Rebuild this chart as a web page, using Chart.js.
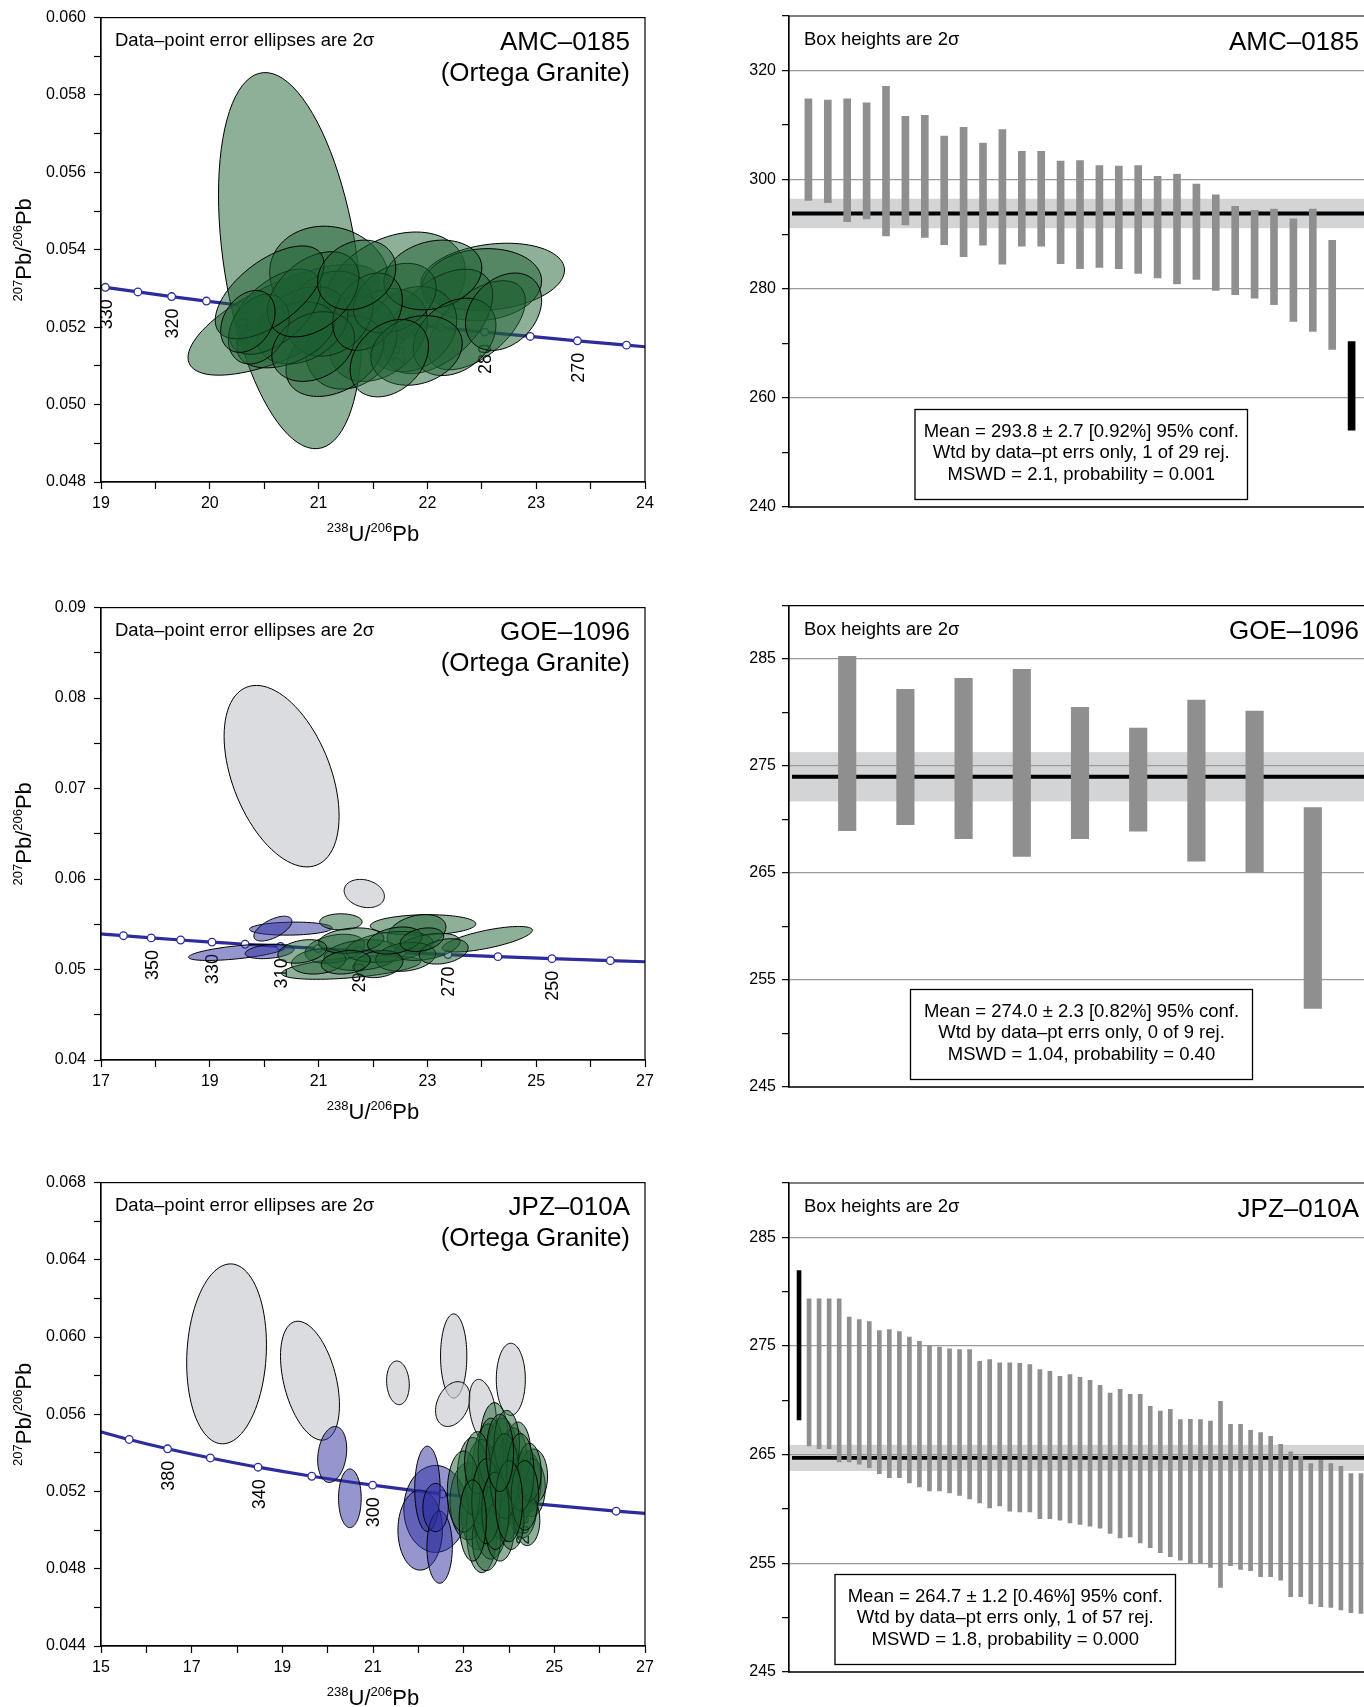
<!DOCTYPE html>
<html>
<head>
<meta charset="utf-8">
<script src="https://cdn.jsdelivr.net/npm/chart.js@4.4.1/dist/chart.umd.min.js"></script>
<style>
html, body { margin: 0; padding: 0; background: #fff; overflow: hidden; width: 1364px; height: 1707px; }
canvas { position: absolute; }
</style>
</head>
<body>
<canvas id="conc1" width="680" height="560" style="left:0;top:0"></canvas>
<canvas id="wm1" width="700" height="560" style="left:700px;top:0"></canvas>
<canvas id="conc2" width="680" height="560" style="left:0;top:590px"></canvas>
<canvas id="wm2" width="700" height="520" style="left:700px;top:590px"></canvas>
<canvas id="conc3" width="680" height="542" style="left:0;top:1165px"></canvas>
<canvas id="wm3" width="700" height="542" style="left:700px;top:1165px"></canvas>
<script>
// ---------- AMC-0185 ----------
const amcAges = [335, 330, 325, 320, 315, 310, 305, 300, 295, 290, 285, 280, 275, 270, 265, 260];
const amcConcX = [18.747, 19.040, 19.339, 19.649, 19.969, 20.299, 20.640, 20.992, 21.356, 21.733, 22.123, 22.527, 22.945, 23.379, 23.830, 24.297];
const amcConcY = [0.053146, 0.053031, 0.052911, 0.052792, 0.052676, 0.052561, 0.052446, 0.052331, 0.052216, 0.052102, 0.051988, 0.051874, 0.051761, 0.051648, 0.051536, 0.051424];
const amcAgeLabels = [330, 320, 310, 300, 290, 280, 270];
// ellipses: [x, y, half-width x, half-height y, rho]
const amcGreen = [
  [20.74, 0.05372, 0.66, 0.00486, -0.35],
  [20.68, 0.05219, 0.88, 0.00143, 0.68],
  [21.10, 0.05330, 0.55, 0.00131, -0.09],
  [21.70, 0.05300, 0.65, 0.00146, 0.30],
  [22.60, 0.05330, 0.66, 0.00087, 0.20],
  [22.50, 0.05310, 0.55, 0.00093, 0.10],
  [22.45, 0.05205, 0.45, 0.00115, 0.55],
  [22.10, 0.05215, 0.50, 0.00135, 0.50],
  [21.85, 0.05195, 0.42, 0.00110, 0.20],
  [21.55, 0.05180, 0.45, 0.00120, 0.30],
  [21.30, 0.05160, 0.42, 0.00120, 0.20],
  [21.15, 0.05125, 0.45, 0.00104, 0.35],
  [21.10, 0.05235, 0.40, 0.00110, 0.20],
  [20.85, 0.05205, 0.42, 0.00100, 0.30],
  [20.70, 0.05180, 0.45, 0.00085, 0.40],
  [20.60, 0.05240, 0.42, 0.00110, 0.55],
  [20.45, 0.05195, 0.28, 0.00090, 0.30],
  [20.95, 0.05150, 0.38, 0.00090, 0.25],
  [21.70, 0.05275, 0.38, 0.00090, 0.30],
  [22.05, 0.05335, 0.45, 0.00090, 0.20],
  [21.45, 0.05240, 0.32, 0.00100, 0.30],
  [22.25, 0.05175, 0.38, 0.00100, 0.30],
  [20.95, 0.05285, 0.42, 0.00110, 0.40],
  [21.90, 0.05140, 0.42, 0.00090, 0.20],
  [20.55, 0.05290, 0.50, 0.00120, 0.60],
  [21.35, 0.05335, 0.36, 0.00090, 0.20],
  [22.70, 0.05240, 0.35, 0.00100, 0.30],
  [21.65, 0.05120, 0.36, 0.00100, 0.30],
  [20.35, 0.05215, 0.25, 0.00080, 0.30]
];
const amcHi = [314.8, 314.6, 314.8, 314.1, 317.1, 311.6, 311.8, 308.0, 309.6, 306.7, 309.2, 305.2, 305.2, 303.4, 303.5, 302.6, 302.5, 302.6, 300.6, 301.0, 299.2, 297.2, 295.1, 294.4, 294.6, 292.8, 294.6, 288.9, 270.3];
const amcLo = [296.2, 295.8, 292.3, 292.8, 289.7, 291.7, 289.4, 288.1, 285.9, 288.0, 284.5, 287.8, 287.8, 284.6, 283.7, 283.9, 283.7, 282.8, 282.0, 280.9, 281.7, 279.7, 278.9, 278.3, 277.1, 274.0, 272.2, 268.9, 254.1];
const amcRejected = [28];
const amcMean = [293.8, 2.7];
const amcStats = ['Mean = 293.8 ± 2.7 [0.92%] 95% conf.', 'Wtd by data–pt errs only, 1 of 29 rej.', 'MSWD = 2.1, probability = 0.001'];

// ---------- GOE-1096 ----------
const goeAges = [370, 360, 350, 340, 330, 320, 310, 300, 290, 280, 270, 260, 250, 240, 230];
const goeConcX = [16.927, 17.413, 17.923, 18.464, 19.040, 19.649, 20.299, 20.992, 21.733, 22.527, 23.379, 24.297, 25.289, 26.363, 27.531];
const goeConcY = [0.053973, 0.053738, 0.053497, 0.053261, 0.053031, 0.052792, 0.052561, 0.052331, 0.052102, 0.051874, 0.051648, 0.051424, 0.051202, 0.050981, 0.050761];
const goeAgeLabels = [350, 330, 310, 290, 270, 250];
const goeGray = [
  [20.32, 0.07137, 1.057, 0.01003, -0.44],
  [21.84, 0.05840, 0.37, 0.00156, -0.20]
];
const goeBlue = [
  [20.49, 0.05452, 0.76, 0.00072, 0.10],
  [20.16, 0.05452, 0.35, 0.00137, 0.60],
  [19.50, 0.05190, 0.89, 0.00090, 0.60],
  [20.10, 0.05200, 0.45, 0.00080, 0.30]
];
const goeGreen = [
  [24.10, 0.05335, 0.83, 0.00141, 0.70],
  [22.92, 0.05493, 0.97, 0.00113, 0.10],
  [21.41, 0.05527, 0.39, 0.00089, 0.00],
  [22.80, 0.05410, 0.54, 0.00198, 0.30],
  [21.60, 0.05022, 1.28, 0.00130, 0.50],
  [21.30, 0.05230, 0.55, 0.00160, 0.30],
  [21.80, 0.05160, 0.70, 0.00170, 0.20],
  [22.30, 0.05250, 0.80, 0.00170, 0.30],
  [23.00, 0.05250, 0.60, 0.00150, 0.40],
  [21.00, 0.05090, 0.50, 0.00140, 0.20],
  [22.60, 0.05140, 0.55, 0.00160, 0.20],
  [21.60, 0.05320, 0.60, 0.00140, 0.20],
  [23.30, 0.05200, 0.45, 0.00140, 0.30],
  [20.70, 0.05200, 0.45, 0.00130, 0.30],
  [22.10, 0.05060, 0.45, 0.00150, 0.20],
  [22.40, 0.05320, 0.50, 0.00150, 0.30],
  [21.50, 0.05080, 0.45, 0.00130, 0.20],
  [22.90, 0.05330, 0.40, 0.00130, 0.30]
];
const goeHi = [285.25, 282.18, 283.20, 284.04, 280.50, 278.55, 281.16, 280.13, 271.11];
const goeLo = [268.97, 269.53, 268.22, 266.55, 268.22, 268.91, 266.12, 265.09, 252.35];
const goeRejected = [];
const goeMean = [274.0, 2.3];
const goeStats = ['Mean = 274.0 ± 2.3 [0.82%] 95% conf.', 'Wtd by data–pt errs only, 0 of 9 rej.', 'MSWD = 1.04, probability = 0.40'];

// ---------- JPZ-010A ----------
const jpzAges = [420, 400, 380, 360, 340, 320, 300, 280, 260, 240, 220];
const jpzConcX = [14.854, 15.621, 16.469, 17.413, 18.464, 19.649, 20.992, 22.527, 24.297, 26.363, 28.805];
const jpzConcY = [0.055189, 0.054696, 0.054214, 0.053738, 0.053261, 0.052792, 0.052331, 0.051874, 0.051424, 0.050981, 0.050540];
const jpzAgeLabels = [380, 340, 300, 260];
const jpzGray = [
  [17.77, 0.05913, 0.88, 0.00466, 0.10],
  [19.61, 0.05774, 0.65, 0.00308, -0.41],
  [21.55, 0.05763, 0.25, 0.00113, -0.10],
  [22.78, 0.05902, 0.29, 0.00218, 0.00],
  [22.76, 0.05653, 0.38, 0.00116, 0.30],
  [23.42, 0.05619, 0.30, 0.00162, -0.30],
  [24.04, 0.05781, 0.32, 0.00187, 0.00]
];
const jpzBlue = [
  [20.10, 0.05392, 0.32, 0.00145, 0.20],
  [20.49, 0.05165, 0.25, 0.00152, 0.00],
  [22.38, 0.05110, 0.70, 0.00225, 0.00],
  [22.04, 0.05000, 0.49, 0.00207, 0.00],
  [22.20, 0.05214, 0.28, 0.00221, 0.00],
  [22.47, 0.04912, 0.28, 0.00187, 0.00],
  [22.38, 0.05117, 0.28, 0.00125, 0.00]
];
const jpzGreen = [
  [23.68, 0.0545, 0.32, 0.0021, 0], [23.55, 0.0530, 0.36, 0.0025, 0], [23.85, 0.0535, 0.36, 0.0023, 0],
  [23.30, 0.0510, 0.36, 0.0020, 0], [23.40, 0.0500, 0.34, 0.0022, 0], [23.10, 0.0515, 0.40, 0.0020, 0],
  [23.60, 0.0505, 0.36, 0.0020, 0], [24.00, 0.0525, 0.34, 0.0020, 0], [24.20, 0.0520, 0.31, 0.0018, 0],
  [24.40, 0.0525, 0.31, 0.0016, 0], [24.50, 0.0522, 0.30, 0.0015, 0], [24.30, 0.0512, 0.31, 0.0016, 0],
  [23.90, 0.0512, 0.34, 0.0018, 0], [23.75, 0.0520, 0.36, 0.0024, 0], [24.10, 0.0535, 0.31, 0.0018, 0],
  [23.40, 0.0525, 0.36, 0.0022, 0], [23.20, 0.0528, 0.34, 0.0020, 0], [23.00, 0.0520, 0.36, 0.0021, 0],
  [24.55, 0.0528, 0.30, 0.0014, 0], [24.40, 0.0505, 0.28, 0.0013, 0], [23.50, 0.0495, 0.31, 0.0016, 0],
  [23.80, 0.0500, 0.31, 0.0016, 0], [24.20, 0.0540, 0.28, 0.0016, 0], [23.60, 0.0540, 0.28, 0.0018, 0],
  [23.95, 0.0545, 0.28, 0.0017, 0], [24.45, 0.0530, 0.26, 0.0015, 0], [23.30, 0.0535, 0.28, 0.0016, 0],
  [24.05, 0.0505, 0.28, 0.0015, 0], [23.50, 0.0515, 0.32, 0.0022, 0], [23.90, 0.0528, 0.32, 0.0022, 0],
  [24.25, 0.0530, 0.30, 0.0020, 0], [23.70, 0.0510, 0.30, 0.0020, 0], [24.35, 0.0518, 0.30, 0.0018, 0],
  [23.20, 0.0505, 0.30, 0.0021, 0], [24.00, 0.0515, 0.30, 0.0021, 0], [23.80, 0.0540, 0.30, 0.0020, 0]
];
const jpzHi = [281.94, 279.34, 279.34, 279.34, 279.34, 277.65, 277.44, 277.25, 276.43, 276.52, 276.33,
  275.81, 275.42, 275.05, 274.90, 274.74, 274.68, 274.68, 273.58, 273.76, 273.46,
  273.46, 273.40, 273.30, 272.84, 272.66, 272.20, 272.38, 272.11,
  271.83, 271.37, 270.67, 271.01, 270.55, 270.55, 269.45, 269.02, 269.17, 268.22,
  268.25, 268.22, 268.10, 269.90, 267.79, 267.79, 267.24, 267.03, 266.69, 265.96,
  265.25, 264.85, 264.18, 264.49, 264.18, 263.93, 263.26, 263.26];
const jpzLo = [268.20, 265.80, 265.56, 265.56, 264.33, 264.33, 264.12, 263.81, 263.26, 262.89, 262.89,
  262.40, 262.04, 261.67, 261.67, 261.48, 261.24, 260.93, 260.57, 260.11, 260.29,
  259.80, 259.74, 259.74, 259.10, 259.10, 258.97, 258.73, 258.58,
  258.42, 258.24, 257.75, 257.35, 257.44, 256.89, 256.43, 255.97, 255.61, 255.30,
  254.99, 254.99, 254.63, 252.79, 254.78, 254.44, 254.32, 253.77, 253.77, 253.46,
  251.93, 251.93, 251.26, 251.01, 250.95, 250.71, 250.46, 250.40];
const jpzRejected = [0];
const jpzMean = [264.7, 1.2];
const jpzStats = ['Mean = 264.7 ± 1.2 [0.46%] 95% conf.', 'Wtd by data–pt errs only, 1 of 57 rej.', 'MSWD = 1.8, probability = 0.000'];

const FONT = '"Liberation Sans", Arial, Helvetica, sans-serif';
Chart.defaults.font.family = FONT;
Chart.defaults.color = '#000';

const BLUE = '#2c2c9c';
const GREEN_FILL = 'rgba(30,95,50,0.5)';
const BLUE_FILL = 'rgba(45,45,160,0.5)';
const GRAY_FILL = 'rgba(200,202,206,0.65)';

// draw text with superscript isotopes, parts = [[text, isSup], ...]
function isoText(ctx, parts, x, y) {
  let w = 0;
  parts.forEach(p => { ctx.font = (p[1] ? '13px ' : '22px ') + FONT; w += ctx.measureText(p[0]).width; });
  let cx = x - w / 2;
  ctx.textAlign = 'left';
  ctx.textBaseline = 'alphabetic';
  parts.forEach(p => {
    ctx.font = (p[1] ? '13px ' : '22px ') + FONT;
    ctx.fillText(p[0], cx, p[1] ? y - 9 : y);
    cx += ctx.measureText(p[0]).width;
  });
}

function drawEllipse(ctx, xs, ys, e, fill) {
  const [cx, cy, sx, sy, r] = e;
  const q = Math.sqrt(1 - r * r);
  ctx.beginPath();
  for (let k = 0; k <= 90; k++) {
    const t = k / 90 * 2 * Math.PI;
    const px = xs.getPixelForValue(cx + sx * Math.cos(t));
    const py = ys.getPixelForValue(cy + sy * (r * Math.cos(t) + q * Math.sin(t)));
    if (k === 0) ctx.moveTo(px, py); else ctx.lineTo(px, py);
  }
  ctx.closePath();
  ctx.fillStyle = fill;
  ctx.fill();
  ctx.strokeStyle = '#000';
  ctx.lineWidth = 1;
  ctx.stroke();
}

function concordiaChart(id, o) {
  const plugin = {
    id: 'conc_' + id,
    afterDatasetsDraw(chart) {
      const ctx = chart.ctx, a = chart.chartArea;
      const xs = chart.scales.x, ys = chart.scales.y;
      ctx.save();
      ctx.beginPath();
      ctx.rect(a.left, a.top, a.right - a.left, a.bottom - a.top);
      ctx.clip();
      // age labels under the ellipses
      ctx.fillStyle = '#000';
      ctx.font = '18px ' + FONT;
      o.labels.forEach(age => {
        const i = o.ages.indexOf(age);
        const px = xs.getPixelForValue(o.cx[i]);
        const py = ys.getPixelForValue(o.cy[i]);
        ctx.save();
        ctx.translate(px + 1.5, py + 12);
        ctx.rotate(-Math.PI / 2);
        ctx.textAlign = 'right';
        ctx.textBaseline = 'middle';
        ctx.fillText(String(age), 0, 0);
        ctx.restore();
      });
      (o.gray || []).forEach(e => drawEllipse(ctx, xs, ys, e, GRAY_FILL));
      (o.blue || []).forEach(e => drawEllipse(ctx, xs, ys, e, BLUE_FILL));
      (o.green || []).forEach(e => drawEllipse(ctx, xs, ys, e, GREEN_FILL));
      ctx.restore();
    },
    afterDraw(chart) {
      const ctx = chart.ctx, a = chart.chartArea;
      ctx.save();
      ctx.strokeStyle = '#000';
      ctx.lineWidth = 1.2;
      ctx.strokeRect(a.left, a.top, a.right - a.left, a.bottom - a.top);
      ctx.fillStyle = '#000';
      ctx.textBaseline = 'alphabetic';
      ctx.font = '18.5px ' + FONT;
      ctx.textAlign = 'left';
      ctx.fillText('Data–point error ellipses are 2σ', a.left + 14, a.top + 28);
      ctx.font = '26px ' + FONT;
      ctx.textAlign = 'right';
      ctx.fillText(o.name, a.right - 15, a.top + 32.5);
      ctx.fillText('(Ortega Granite)', a.right - 15, a.top + 63.5);
      isoText(ctx, [['238', true], ['U/', false], ['206', true], ['Pb', false]], (a.left + a.right) / 2, a.bottom + 59);
      ctx.translate(31, (a.top + a.bottom) / 2);
      ctx.rotate(-Math.PI / 2);
      isoText(ctx, [['207', true], ['Pb/', false], ['206', true], ['Pb', false]], 0, 0);
      ctx.restore();
    }
  };
  return new Chart(document.getElementById(id), {
    type: 'scatter',
    data: {
      datasets: [{
        data: o.cx.map((x, i) => ({ x: x, y: o.cy[i] })),
        showLine: true,
        borderColor: BLUE,
        borderWidth: 3.2,
        cubicInterpolationMode: 'monotone',
        pointRadius: 3.8,
        pointBorderWidth: 1.3,
        pointBackgroundColor: '#fff',
        pointBorderColor: BLUE,
        clip: 0
      }]
    },
    options: {
      animation: false,
      responsive: false,
      events: [],
      layout: { padding: { top: o.top, right: 35, left: 0, bottom: 0 } },
      plugins: { legend: { display: false }, tooltip: { enabled: false } },
      scales: {
        x: {
          type: 'linear', min: o.xmin, max: o.xmax,
          ticks: { stepSize: o.xstep, autoSkip: false, maxRotation: 0, padding: 5, font: { size: 16 }, callback: o.xlabel },
          grid: { drawOnChartArea: false, tickLength: 7, tickColor: '#000', tickWidth: 1.2 },
          border: { color: '#000', width: 1.2 },
          afterFit: s => { s.height = o.xh; }
        },
        y: {
          type: 'linear', min: o.ymin, max: o.ymax,
          ticks: { stepSize: o.ystep, autoSkip: false, padding: 8, font: { size: 16 }, callback: o.ylabel },
          grid: { drawOnChartArea: false, tickLength: 7, tickColor: '#000', tickWidth: 1.2 },
          border: { color: '#000', width: 1.2 },
          afterFit: s => { s.width = 101; }
        }
      }
    },
    plugins: [plugin]
  });
}

function wtdMeanChart(id, o) {
  const n = o.hi.length;
  const plugin = {
    id: 'wm_' + id,
    beforeDraw(chart) {
      const ctx = chart.ctx, a = chart.chartArea, ys = chart.scales.y;
      const t = ys.getPixelForValue(o.mean[0] + o.mean[1]);
      const b = ys.getPixelForValue(o.mean[0] - o.mean[1]);
      ctx.save();
      ctx.fillStyle = '#d3d4d6';
      ctx.fillRect(a.left, t, a.right - a.left, b - t);
      ctx.restore();
    },
    beforeDatasetsDraw(chart) {
      const ctx = chart.ctx, a = chart.chartArea, ys = chart.scales.y;
      const m = ys.getPixelForValue(o.mean[0]);
      ctx.save();
      ctx.strokeStyle = '#000';
      ctx.lineWidth = 3.8;
      ctx.beginPath();
      ctx.moveTo(a.left + 3, m);
      ctx.lineTo(a.right, m);
      ctx.stroke();
      ctx.restore();
    },
    afterDraw(chart) {
      const ctx = chart.ctx, a = chart.chartArea;
      ctx.save();
      ctx.strokeStyle = '#000';
      ctx.lineWidth = 1.2;
      ctx.beginPath();
      ctx.moveTo(a.left, a.bottom);
      ctx.lineTo(a.left, a.top);
      ctx.lineTo(a.right, a.top);
      ctx.stroke();
      ctx.fillStyle = '#000';
      ctx.textBaseline = 'alphabetic';
      ctx.font = '18.5px ' + FONT;
      ctx.textAlign = 'left';
      ctx.fillText('Box heights are 2σ', a.left + 15, a.top + 29);
      ctx.font = '26px ' + FONT;
      ctx.textAlign = 'right';
      ctx.fillText(o.name, a.right - 12, a.top + 33.5);
      // statistics box
      const bx0 = a.left + o.box[0], bx1 = a.left + o.box[1];
      const by1 = a.bottom - 7.5, by0 = by1 - 90;
      ctx.fillStyle = '#fff';
      ctx.fillRect(bx0, by0, bx1 - bx0, by1 - by0);
      ctx.lineWidth = 1.3;
      ctx.strokeRect(bx0, by0, bx1 - bx0, by1 - by0);
      ctx.fillStyle = '#000';
      ctx.font = '18.5px ' + FONT;
      ctx.textAlign = 'center';
      ctx.textBaseline = 'middle';
      o.stats.forEach((s, i) => ctx.fillText(s, (bx0 + bx1) / 2, by0 + 22 + i * 21.5));
      ctx.restore();
    }
  };
  return new Chart(document.getElementById(id), {
    type: 'bar',
    data: {
      datasets: [{
        data: o.hi.map((h, i) => ({ x: i + 1, y: [o.lo[i], h] })),
        backgroundColor: o.hi.map((h, i) => o.rej.includes(i) ? '#000' : '#8f8f8f'),
        barThickness: o.bw,
        borderWidth: 0,
        borderSkipped: false
      }]
    },
    options: {
      animation: false,
      responsive: false,
      events: [],
      layout: { padding: { top: o.top, right: 29, left: 0, bottom: 0 } },
      plugins: { legend: { display: false }, tooltip: { enabled: false } },
      scales: {
        x: {
          type: 'linear', min: 0, max: n + 1, offset: false,
          ticks: { display: false },
          grid: { display: false, offset: false },
          border: { display: true, color: '#3c3c3c', width: 2 },
          afterFit: s => { s.height = o.xh; }
        },
        y: {
          type: 'linear', min: o.ymin, max: o.ymax, beginAtZero: false,
          ticks: { stepSize: o.ystep, autoSkip: false, padding: 6, font: { size: 16 },
            callback: v => o.major(v) ? String(v) : '' },
          grid: {
            color: c => (c.tick && o.major(c.tick.value) && c.tick.value > o.ymin) ? '#9a9a9a' : 'rgba(0,0,0,0)',
            lineWidth: 1.3, tickLength: 7, tickColor: '#000', tickWidth: 1.2
          },
          border: { color: '#000', width: 1.2 },
          afterFit: s => { s.width = 89; }
        }
      }
    },
    plugins: [plugin]
  });
}

const near = (v, step) => Math.abs(v / step - Math.round(v / step)) < 1e-6;

concordiaChart('conc1', {
  name: 'AMC–0185', ages: amcAges, cx: amcConcX, cy: amcConcY, labels: amcAgeLabels, green: amcGreen,
  xmin: 19, xmax: 24, xstep: 0.5, ymin: 0.048, ymax: 0.060, ystep: 0.001,
  xlabel: v => near(v, 1) ? String(Math.round(v)) : '',
  ylabel: v => Math.round(v * 1000) % 2 === 0 ? v.toFixed(3) : '',
  top: 16, xh: 78
});
concordiaChart('conc2', {
  name: 'GOE–1096', ages: goeAges, cx: goeConcX, cy: goeConcY, labels: goeAgeLabels,
  gray: goeGray, blue: goeBlue, green: goeGreen,
  xmin: 17, xmax: 27, xstep: 1, ymin: 0.04, ymax: 0.09, ystep: 0.005,
  xlabel: v => Math.round(v) % 2 === 1 ? String(Math.round(v)) : '',
  ylabel: v => Math.round(v * 1000) % 10 === 0 ? v.toFixed(2) : '',
  top: 14, xh: 90
});
concordiaChart('conc3', {
  name: 'JPZ–010A', ages: jpzAges, cx: jpzConcX, cy: jpzConcY, labels: jpzAgeLabels,
  gray: jpzGray, blue: jpzBlue, green: jpzGreen,
  xmin: 15, xmax: 27, xstep: 1, ymin: 0.044, ymax: 0.068, ystep: 0.002,
  xlabel: v => Math.round(v) % 2 === 1 ? String(Math.round(v)) : '',
  ylabel: v => Math.round(v * 1000) % 4 === 0 ? v.toFixed(3) : '',
  top: 16, xh: 61
});

wtdMeanChart('wm1', {
  name: 'AMC–0185', hi: amcHi, lo: amcLo, rej: amcRejected, mean: amcMean, stats: amcStats,
  ymin: 240, ymax: 330, ystep: 10, major: v => v % 20 === 0,
  bw: 7, top: 16, xh: 53, box: [126, 458.5]
});
wtdMeanChart('wm2', {
  name: 'GOE–1096', hi: goeHi, lo: goeLo, rej: goeRejected, mean: goeMean, stats: goeStats,
  ymin: 245, ymax: 290, ystep: 5, major: v => (v - 245) % 10 === 0,
  bw: 17.5, top: 13, xh: 23, box: [121.5, 463.5]
});
wtdMeanChart('wm3', {
  name: 'JPZ–010A', hi: jpzHi, lo: jpzLo, rej: jpzRejected, mean: jpzMean, stats: jpzStats,
  ymin: 245, ymax: 290, ystep: 5, major: v => (v - 245) % 10 === 0,
  bw: 4, top: 18, xh: 35, box: [46, 386.5]
});
</script>
</body>
</html>
